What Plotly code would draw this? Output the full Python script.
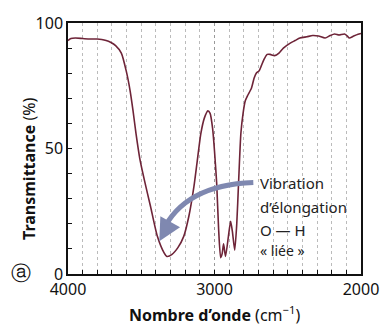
import plotly.graph_objects as go

# Data
wavenumber = [4000, 3980, 3950, 3900, 3850, 3800, 3770, 3740, 3710, 3675, 3636, 3603,
              3576, 3556, 3536, 3510, 3477, 3437, 3390, 3345, 3325, 3290, 3250, 3210,
              3175, 3140, 3120, 3093, 3070, 3045, 3030, 3013, 3000, 2985, 2972, 2958,
              2948, 2938, 2925, 2905, 2890, 2878, 2862, 2848, 2836, 2820, 2805, 2790,
              2775, 2748, 2730, 2715, 2695, 2680, 2662, 2640, 2620, 2590, 2560, 2530,
              2483, 2450, 2417, 2370, 2330, 2290, 2245, 2210, 2180, 2150, 2113, 2090,
              2080, 2050, 2020, 2000]
transmittance = [93, 93.8, 94, 93.8, 93.6, 93.6, 93.4, 93, 92.3, 91, 88, 81,
                 73, 65, 56, 46, 37, 27, 15, 8.5, 7, 7.8, 10.5, 15,
                 23, 35, 44, 56, 62, 65, 64, 58, 49, 36, 18, 6.5,
                 8, 12, 7, 15, 21, 17, 9.5, 20, 36, 56, 64, 69,
                 71, 74, 78, 80, 81, 83, 85.5, 87.5, 87.5, 87, 88, 90,
                 92, 93, 94, 94.5, 95, 94.8, 94, 95, 95.6, 95.2, 95.6, 94.6,
                 94, 94.8, 95.5, 95.8]

y_ticks = [0, 50, 100]
x_ticks = [4000, 3000, 2000]

label_lines = ["Vibration", "d’élongation", "O — H", "« liée »"]

# annotation arrow geometry (data coords)
arrow_start = (2735, 36.5)
arrow_ctrl = (3206, 35.5)
arrow_end = (3355, 17)

fig = go.Figure()
fig.add_trace(go.Scatter(x=wavenumber, y=transmittance, mode="lines",
                         line=dict(color="#6e2438", width=1.6, shape="spline", smoothing=0.6),
                         hoverinfo="skip", showlegend=False))

fig.add_shape(type="path", xref="x", yref="y",
              path=f"M {arrow_start[0]},{arrow_start[1]} Q {arrow_ctrl[0]},{arrow_ctrl[1]} {arrow_end[0]},{arrow_end[1]}",
              line=dict(color="#7f88b0", width=5))
fig.add_annotation(x=arrow_end[0] + 22, y=arrow_end[1] - 4, xref="x", yref="y",
                   ax=10, ay=-18, axref="pixel", ayref="pixel",
                   showarrow=True, arrowhead=2, arrowsize=1.0, arrowwidth=4.5,
                   arrowcolor="#7f88b0", text="")

line_y = [36.2, 26.8, 17.6, 9.3]
line_size = [15, 15, 15, 14]
for txt, yy, sz in zip(label_lines, line_y, line_size):
    fig.add_annotation(x=2705, y=yy, xref="x", yref="y", xanchor="left", yanchor="middle",
                       text=txt, showarrow=False,
                       font=dict(family="Noto Sans", size=sz, color="#222"))

fig.add_annotation(x=0.5, y=-0.16, xref="paper", yref="paper", xanchor="center", yanchor="middle",
                   text="<b>Nombre d’onde</b> (cm<sup>−1</sup>)", showarrow=False,
                   font=dict(family="Noto Sans", size=16, color="#111"))
fig.add_annotation(x=-0.135, y=0.42, xref="paper", yref="paper", xanchor="center", yanchor="middle",
                   text="<b>Transmittance</b> (%)", textangle=-90, showarrow=False,
                   font=dict(family="Noto Sans", size=16, color="#111"))
fig.add_annotation(x=-0.16, y=0.005, xref="paper", yref="paper", xanchor="center", yanchor="middle",
                   text="ⓐ", showarrow=False,
                   font=dict(family="DejaVu Sans", size=20, color="#111"))

fig.update_xaxes(range=[4000, 2000], tickvals=x_ticks, ticktext=[str(v) for v in x_ticks],
                 showline=True, mirror=True, linecolor="#111", linewidth=1.5,
                 ticks="inside", ticklen=4, tickcolor="#111",
                 showgrid=True, gridcolor="#999", griddash="dot", gridwidth=1,
                 minor=dict(dtick=100, showgrid=True, gridcolor="#bbb", griddash="dot",
                            ticks="inside", ticklen=4, tickcolor="#111"),
                 zeroline=False,
                 tickfont=dict(family="Noto Sans", size=16, color="#111"))
fig.update_yaxes(range=[0, 100], tickvals=y_ticks,
                 showline=True, mirror=True, linecolor="#111", linewidth=1.5,
                 ticks="inside", ticklen=4, tickcolor="#111",
                 showgrid=False, zeroline=False,
                 minor=dict(dtick=10, ticks="inside", ticklen=4, tickcolor="#111", showgrid=False),
                 tickfont=dict(family="Noto Sans", size=16, color="#111"))

fig.update_layout(width=391, height=329, margin=dict(l=68, r=23, t=22, b=55),
                  plot_bgcolor="white", paper_bgcolor="white", showlegend=False)

fig.write_html("out.html")
